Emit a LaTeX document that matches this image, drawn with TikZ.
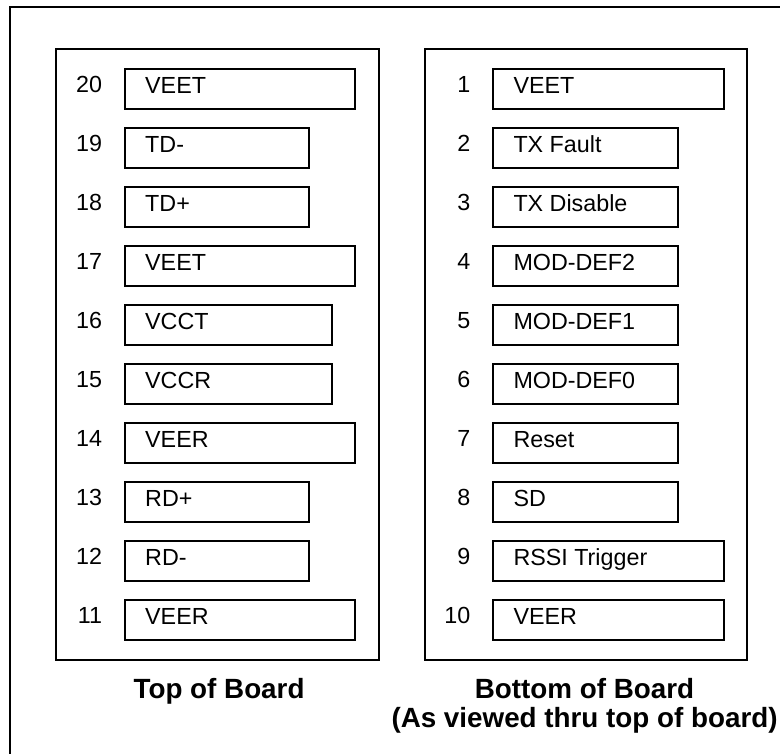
\documentclass[tikz,border=0pt]{standalone}
\usepackage{fontspec}
\setmainfont{Liberation Sans}
\usetikzlibrary{calc}

\begin{document}
\begin{tikzpicture}[x=1pt, y=-1pt,
  edge/.style={line width=2pt},
  board/.style={draw, line width=2pt, rectangle, inner sep=0pt, anchor=north west,
    minimum width=322.7pt, minimum height=611.3pt},
  pinbox/.style={draw, line width=2pt, rectangle, inner sep=0pt, anchor=north west,
    minimum height=40pt},
  pinnum/.style={font=\fontsize{23.3}{28}\selectfont, anchor=base east, inner sep=0pt},
  pinname/.style={font=\fontsize{23.3}{28}\selectfont, anchor=base west, inner sep=0pt},
  caption/.style={font=\fontsize{27.8}{28.5}\selectfont\bfseries, anchor=base,
    align=center, inner sep=0pt}]
  \useasboundingbox (0,0) rectangle (780,754);

  % Outer frame
  \draw[edge] (10,754) |- (780,7);

  % Boards
  \node[board] (top) at (55.3,47.7) {};
  \node[board] (bottom) at (423.7,47.7) {};

  % Top of board: pins 20 to 11
  \foreach \i/\n/\name/\w in {0/20/VEET/230.6, 1/19/TD-/184.6, 2/18/TD+/184.6,
      3/17/VEET/230.6, 4/16/VCCT/207.3, 5/15/VCCR/207.3, 6/14/VEER/230.6,
      7/13/RD+/184.6, 8/12/RD-/184.6, 9/11/VEER/230.6} {
    \node[pinbox, minimum width=\w pt] (pin\n) at (123.7, 67.7+59.07*\i) {};
    \node[pinnum] (num\n) at ($(pin\n.west)+(-21.5,3.5)$) {\n};
    \node[pinname] (lbl\n) at ($(pin\n.west)+(21.3,4.5)$) {\name};
  }

  % Bottom of board: pins 1 to 10
  \foreach \i/\n/\name/\w in {0/1/VEET/230.6, 1/2/TX Fault/184.6, 2/3/TX Disable/184.6,
      3/4/MOD-DEF2/184.6, 4/5/MOD-DEF1/184.6, 5/6/MOD-DEF0/184.6, 6/7/Reset/184.6,
      7/8/SD/184.6, 8/9/RSSI Trigger/230.6, 9/10/VEER/230.6} {
    \node[pinbox, minimum width=\w pt] (pin\n) at (492, 67.7+59.07*\i) {};
    \node[pinnum] (num\n) at ($(pin\n.west)+(-21.5,3.5)$) {\n};
    \node[pinname] (lbl\n) at ($(pin\n.west)+(21.3,4.5)$) {\name};
  }

  % Captions (base of a two-line node is its last line)
  \node[caption] (toptitle) at ($(top.south)+(1.4,37.5)$) {Top of Board};
  \node[caption] (bottomtitle) at ($(bottom.south)+(-1.5,66)$)
    {Bottom of Board\\(As viewed thru top of board)};
\end{tikzpicture}
\end{document}
